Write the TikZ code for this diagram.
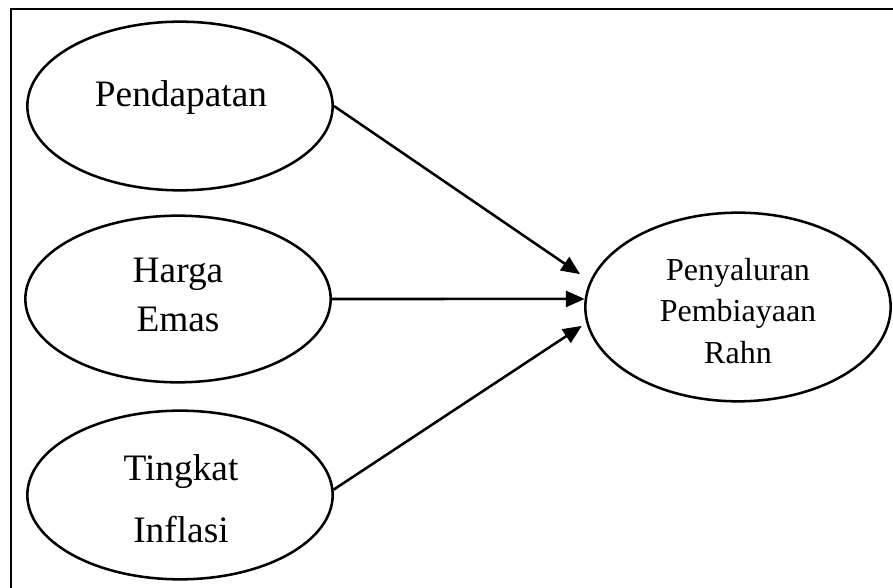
\documentclass[tikz,border=0pt]{standalone}
\usepackage{fontspec}
\setmainfont{Liberation Serif}
\usetikzlibrary{shapes.geometric, positioning, calc, arrows.meta}

\begin{document}
\begin{tikzpicture}[x=0.75pt, y=-0.75pt,
	var/.style={draw, ellipse, line width=1.9pt, inner sep=0pt, minimum width=229pt, minimum height=126.5pt},
	lbl/.style={align=center, font=\fontsize{28}{37}\selectfont},
	arr/.style={line width=1.9pt, -{Triangle[length=14pt, width=12pt]}}]
	\useasboundingbox (0,0) rectangle (893,588);
	\draw[line width=2.2pt] (11,588) -- (11,9) -- (893,9);
	
	\node[var] (pend) at (180,106) {};
	\node[var, minimum height=125pt] (harga) at (178,299) {};
	\node[var] (infl) at (180,495) {};
	\node[var, minimum height=141.5pt] (rahn) at (738,307) {};
	
	\node[lbl, anchor=base] (tpend) at (181,107) {Pendapatan};
	\node[lbl] (tharga) at (178,295) {Harga\\Emas};
	\node[lbl, font=\fontsize{28}{46.5}\selectfont] (tinfl) at (181,499) {Tingkat\\Inflasi};
	\node[lbl, font=\fontsize{24}{31}\selectfont] (trahn) at (738,311) {Penyaluran\\Pembiayaan\\Rahn};
	
	\draw[arr, shorten >=9pt] (pend.east) -- (rahn.170);
	\draw[arr] (harga.east) -- (rahn.177);
	\draw[arr, shorten >=4pt] (infl.2) -- (rahn.186);
	
	%%\node at (450,560) {};
\end{tikzpicture}
\end{document}
